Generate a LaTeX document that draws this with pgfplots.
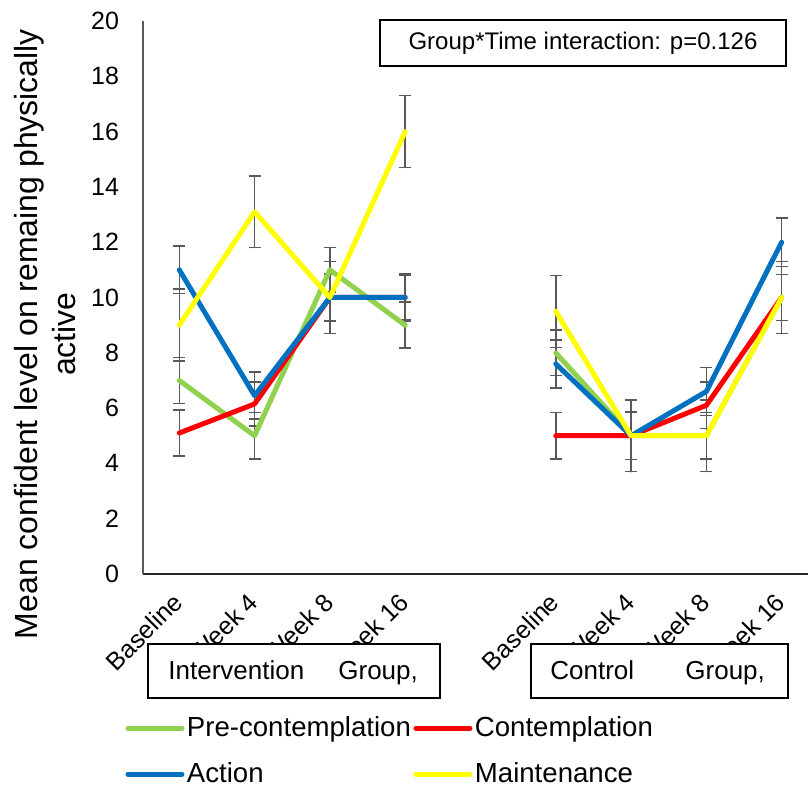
\documentclass[border=0pt]{standalone}
\usepackage{pgfplots}
\pgfplotsset{compat=1.18}
\usepackage{pgfplotstable}
\usepackage{fontspec}
\setmainfont{Liberation Sans}
\definecolor{cgreen}{RGB}{146,208,80}
\definecolor{cred}{RGB}{255,0,0}
\definecolor{cblue}{RGB}{0,112,192}
\definecolor{cyellow}{RGB}{255,255,0}
\definecolor{errgray}{RGB}{89,89,89}
\pgfplotstableread{
x g ge r re b be y ye
0 7 0.83 5.1 0.83 11 0.86 9 1.3
1 5 0.84 6.15 0.8 6.45 0.85 13.1 1.3
2 11 0.8 10 0.85 10 0.85 10 1.3
3 9 0.83 10 0.8 10 0.85 16 1.3
4 nan 0 nan 0 nan 0 nan 0
5 8 0.83 5 0.84 7.6 0.87 9.5 1.3
6 5 0.85 5 0.85 5 0.85 5 1.3
7 5 0.84 6.1 0.84 6.6 0.87 5 1.3
8 10 0.83 10 0.83 12 0.87 10 1.3
}\data
\begin{document}
\begin{tikzpicture}
\begin{axis}[
  at={(71.5pt,106.5pt)}, anchor=south west,
  scale only axis, width=332.5pt, height=276.5pt,
  xmin=-0.482, xmax=8.35, ymin=0, ymax=20,
  axis lines*=left,
  x axis line style={black!85, line width=1pt},
  y axis line style={errgray, line width=0.75pt},
  ytick={0,2,...,20},
  xtick={0,1,2,3,5,6,7,8},
  xticklabels={Baseline,Week 4,Week 8,Week 16,Baseline,Week 4,Week 8,Week 16},
  major tick length=0pt,
  tick label style={font=\fontsize{12.5}{15}\selectfont},
  /pgf/number format/assume math mode=true,
  yticklabel style={anchor=east, xshift=-8.5pt},
  xticklabel style={rotate=45, anchor=east, inner sep=0pt, xshift=-8.7pt, yshift=-8pt},
  unbounded coords=jump,
  clip=false,
  legend columns=2,
  legend cell align=left,
  legend style={draw=none, fill=none, at={(-0.027,-0.253)}, anchor=north west,
    font=\fontsize{13.8}{16}\selectfont, inner sep=0pt,
    column sep=0pt, row sep=9pt, nodes={inner sep=1.25pt}},
  legend image code/.code={\draw[#1, line cap=round] (0pt,0pt) -- (27pt,0pt);},
  every axis plot/.append style={line width=2.5pt, line cap=round, line join=round},
]
% error bars first (behind lines)
\foreach \c/\e in {g/ge,r/re,b/be,y/ye}{
  \addplot[forget plot, draw=none, mark=none,
    error bars/.cd, y dir=both, y explicit,
    error bar style={draw=errgray, line width=0.75pt},
    error mark options={rotate=90, mark size=3pt, draw=errgray, line width=0.75pt}]
    table[x=x, y=\c, y error=\e] {\data};
}
\addplot[cgreen, mark=none] table[x=x, y=g] {\data};
\addlegendentry{Pre-contemplation}
\addplot[cred, mark=none] table[x=x, y=r] {\data};
\addlegendentry{Contemplation}
\addplot[cblue, mark=none] table[x=x, y=b] {\data};
\addlegendentry{Action}
\addplot[cyellow, mark=none] table[x=x, y=y] {\data};
\addlegendentry{Maintenance}
\end{axis}
% annotation boxes
\draw[black, line width=0.6pt, fill=white] (190pt,360.5pt) rectangle (393pt,383.5pt);
\node[font=\fontsize{12}{14}\selectfont] at (291.5pt,372pt) {Group*Time interaction: p=0.126};
\draw[black, line width=0.6pt, fill=white] (74pt,44.5pt) rectangle (220pt,71.5pt);
\node[font=\fontsize{13}{15}\selectfont, anchor=base west, inner sep=0pt] at (84pt,53.5pt) {Intervention};
\node[font=\fontsize{13}{15}\selectfont, anchor=base west, inner sep=0pt] at (169pt,53.5pt) {Group,};
\draw[black, line width=0.6pt, fill=white] (265.5pt,44.5pt) rectangle (394pt,71.5pt);
\node[font=\fontsize{13}{15}\selectfont, anchor=base west, inner sep=0pt] at (275pt,53.5pt) {Control};
\node[font=\fontsize{13}{15}\selectfont, anchor=base west, inner sep=0pt] at (342.5pt,53.5pt) {Group,};
% y label
\node[rotate=90, align=center, inner sep=0pt, font=\fontsize{16}{19}\selectfont] at (22.5pt,226.5pt) {Mean confident level on remaing physically\\active};
\pgfresetboundingbox
\path[use as bounding box] (0pt,0pt) rectangle (404pt,393.5pt);
\end{tikzpicture}
\end{document}
